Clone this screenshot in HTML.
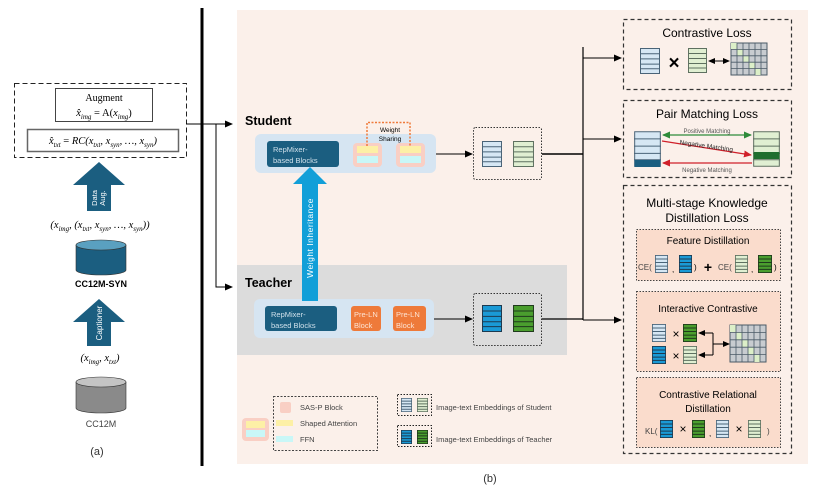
<!DOCTYPE html>
<html><head><meta charset="utf-8"><style>
html,body{margin:0;padding:0;background:#fff;}
svg{display:block;font-family:"Liberation Sans",sans-serif;}
.s{font-family:"Liberation Serif",serif;}
</style></head><body>
<svg width="817" height="494" viewBox="0 0 817 494" xmlns="http://www.w3.org/2000/svg">
<defs>
<marker id="ah" markerWidth="8" markerHeight="8" refX="7" refY="4" orient="auto" markerUnits="userSpaceOnUse"><path d="M0,0.5 L8,4 L0,7.5 z" fill="#000"/></marker>
<marker id="ahs" markerWidth="7" markerHeight="7" refX="6" refY="3.5" orient="auto-start-reverse" markerUnits="userSpaceOnUse"><path d="M0,0.5 L7,3.5 L0,6.5 z" fill="#000"/></marker>
<marker id="ag" markerWidth="8" markerHeight="8" refX="7" refY="4" orient="auto-start-reverse" markerUnits="userSpaceOnUse"><path d="M0,0.5 L8,4 L0,7.5 z" fill="#2e8b3a"/></marker>
<marker id="ar" markerWidth="8" markerHeight="8" refX="7" refY="4" orient="auto" markerUnits="userSpaceOnUse"><path d="M0,0.5 L8,4 L0,7.5 z" fill="#d0202a"/></marker>
<symbol id="lb" viewBox="0 0 20 25" preserveAspectRatio="none"><rect x="0.5" y="0.5" width="19" height="24" fill="#d6e7f4" stroke="#4a6478" vector-effect="non-scaling-stroke"/><path d="M0 5.5H20M0 10.5H20M0 15.5H20M0 20H20" stroke="#4a6478" vector-effect="non-scaling-stroke"/></symbol>
<symbol id="lg" viewBox="0 0 20 25" preserveAspectRatio="none"><rect x="0.5" y="0.5" width="19" height="24" fill="#e0efd2" stroke="#5e7060" vector-effect="non-scaling-stroke"/><path d="M0 5.5H20M0 10.5H20M0 15.5H20M0 20H20" stroke="#5e7060" vector-effect="non-scaling-stroke"/></symbol>
<symbol id="db" viewBox="0 0 20 25" preserveAspectRatio="none"><rect x="0.5" y="0.5" width="19" height="24" fill="#1a9ad6" stroke="#1d3a50" vector-effect="non-scaling-stroke"/><path d="M0 5.5H20M0 10.5H20M0 15.5H20M0 20H20" stroke="#1d3a50" vector-effect="non-scaling-stroke"/></symbol>
<symbol id="dg" viewBox="0 0 20 25" preserveAspectRatio="none"><rect x="0.5" y="0.5" width="19" height="24" fill="#4a9e2e" stroke="#1f3a1c" vector-effect="non-scaling-stroke"/><path d="M0 5.5H20M0 10.5H20M0 15.5H20M0 20H20" stroke="#1f3a1c" vector-effect="non-scaling-stroke"/></symbol>
</defs>

<rect x="237" y="10" width="571" height="454" fill="#fbf0ea"/>
<rect x="237" y="265" width="330" height="90" fill="#dcdcdc"/>
<line x1="202" y1="8" x2="202" y2="466" stroke="#000" stroke-width="3"/>

<!-- panel a -->
<rect x="14.5" y="83.5" width="172" height="74" fill="#fff" stroke="#222" stroke-dasharray="5,3"/>
<rect x="55.5" y="88.5" width="97" height="33" fill="#fff" stroke="#444"/>
<text x="104" y="101" font-size="10" text-anchor="middle" class="s">Augment</text>
<text x="104" y="116" font-size="10.5" text-anchor="middle" class="s"><tspan font-style="italic">x̂</tspan><tspan font-size="7" dy="3" font-style="italic">img</tspan><tspan dy="-3"> = A(</tspan><tspan font-style="italic">x</tspan><tspan font-size="7" dy="3" font-style="italic">img</tspan><tspan dy="-3">)</tspan></text>
<rect x="27.5" y="129.5" width="151" height="22" fill="#fff" stroke="#666" stroke-width="1.5"/>
<text x="103" y="144" font-size="10.5" text-anchor="middle" class="s" font-style="italic">x̂<tspan font-size="7" dy="3">txt</tspan><tspan dy="-3" font-style="normal"> = </tspan>RC(x<tspan font-size="7" dy="3">txt</tspan><tspan dy="-3">, x</tspan><tspan font-size="7" dy="3">syn</tspan><tspan dy="-3">, …, x</tspan><tspan font-size="7" dy="3">syn</tspan><tspan dy="-3">)</tspan></text>

<path d="M99,162 L125,185 L111,185 L111,211 L87,211 L87,185 L73,185 Z" fill="#1b5e80"/>
<text transform="translate(99,198) rotate(-90)" font-size="7.5" fill="#fff" text-anchor="middle"><tspan x="0" y="-2">Data</tspan><tspan x="0" y="6">Aug.</tspan></text>
<text x="100" y="228" font-size="10.5" text-anchor="middle" class="s" font-style="italic">(x<tspan font-size="7" dy="3">img</tspan><tspan dy="-3">, (x</tspan><tspan font-size="7" dy="3">txt</tspan><tspan dy="-3">, x</tspan><tspan font-size="7" dy="3">syn</tspan><tspan dy="-3">, …, x</tspan><tspan font-size="7" dy="3">syn</tspan><tspan dy="-3">))</tspan></text>

<path d="M76,245 L76,270 A25,5 0 0 0 126,270 L126,245" fill="#1b5e80" stroke="#333" stroke-width="0.6"/>
<ellipse cx="101" cy="245" rx="25" ry="5" fill="#5aa0c0" stroke="#333" stroke-width="0.6"/>
<text x="101" y="287" font-size="9" font-weight="bold" text-anchor="middle">CC12M-SYN</text>

<path d="M99,299 L125,322 L111,322 L111,346 L87,346 L87,322 L73,322 Z" fill="#1b5e80"/>
<text transform="translate(99,323) rotate(-90)" font-size="8" fill="#fff" text-anchor="middle" y="3">Captioner</text>
<text x="100" y="361" font-size="10.5" text-anchor="middle" class="s" font-style="italic">(x<tspan font-size="7" dy="3">img</tspan><tspan dy="-3">, x</tspan><tspan font-size="7" dy="3">txt</tspan><tspan dy="-3">)</tspan></text>
<path d="M76,382 L76,408 A25,5 0 0 0 126,408 L126,382" fill="#8a8a8a" stroke="#333" stroke-width="0.6"/>
<ellipse cx="101" cy="382" rx="25" ry="5" fill="#c4c4c4" stroke="#333" stroke-width="0.6"/>
<text x="101" y="427" font-size="9" text-anchor="middle" fill="#444">CC12M</text>
<text x="97" y="455" font-size="11" text-anchor="middle" fill="#333">(a)</text>
<text x="490" y="482" font-size="11" text-anchor="middle" fill="#333">(b)</text>

<path d="M186,124 H232" stroke="#000" marker-end="url(#ah)"/>
<path d="M216,124 V287 H232" stroke="#000" fill="none" marker-end="url(#ah)"/>

<!-- Student -->
<text x="245" y="125" font-size="12.5" font-weight="bold">Student</text>
<rect x="255" y="134" width="181" height="39" rx="6" fill="#d6e5f2"/>
<rect x="267" y="141" width="72" height="26" rx="3" fill="#1b5e80"/>
<text x="273" y="152" font-size="7.5" fill="#cfe0ea">RepMixer-</text>
<text x="273" y="163" font-size="7.5" fill="#cfe0ea">based Blocks</text>
<rect x="353" y="143" width="29" height="24" rx="4" fill="#f9cfc4"/>
<rect x="357" y="146" width="21" height="7" fill="#fdf0a6"/><rect x="357" y="156" width="21" height="7" fill="#c9f7f7"/>
<rect x="396" y="143" width="29" height="24" rx="4" fill="#f9cfc4"/>
<rect x="400" y="146" width="21" height="7" fill="#fdf0a6"/><rect x="400" y="156" width="21" height="7" fill="#c9f7f7"/>
<path d="M367,146 V122.5 H410 V146" stroke="#ef7a3a" stroke-width="1.5" stroke-dasharray="2,1.5" fill="none"/>
<text x="390" y="132" font-size="6.5" text-anchor="middle">Weight</text>
<text x="390" y="141" font-size="6.5" text-anchor="middle">Sharing</text>

<!-- Teacher -->
<text x="245" y="287" font-size="12.5" font-weight="bold">Teacher</text>
<rect x="254" y="299" width="180" height="39" rx="6" fill="#d6e5f2"/>
<rect x="265" y="306" width="72" height="25" rx="3" fill="#1b5e80"/>
<text x="271" y="317" font-size="7.5" fill="#cfe0ea">RepMixer-</text>
<text x="271" y="328" font-size="7.5" fill="#cfe0ea">based Blocks</text>
<rect x="351" y="306" width="30" height="25" rx="3" fill="#ee7a3a"/>
<text x="354" y="317" font-size="7.5" fill="#fde4d4">Pre-LN</text><text x="354" y="328" font-size="7.5" fill="#fde4d4">Block</text>
<rect x="393" y="306" width="33" height="25" rx="3" fill="#ee7a3a"/>
<text x="396" y="317" font-size="7.5" fill="#fde4d4">Pre-LN</text><text x="396" y="328" font-size="7.5" fill="#fde4d4">Block</text>

<path d="M310,167 L327,184 L318,184 L318,301 L302,301 L302,184 L293,184 Z" fill="#129fd8"/>
<text transform="translate(310,238) rotate(-90)" font-size="8.5" fill="#fff" text-anchor="middle" y="3" letter-spacing="0.5">Weight  Inheritance</text>

<path d="M436,154 H472" stroke="#000" marker-end="url(#ah)"/>
<path d="M434,319 H472" stroke="#000" marker-end="url(#ah)"/>
<rect x="473.5" y="127.5" width="68" height="52" rx="2" fill="none" stroke="#333" stroke-dasharray="1.5,1.5"/>
<use href="#lb" x="482" y="141" width="20" height="26"/><use href="#lg" x="513" y="141" width="21" height="26"/>
<rect x="473.5" y="293.5" width="68" height="52" rx="2" fill="none" stroke="#333" stroke-dasharray="1.5,1.5"/>
<use href="#db" x="482" y="305" width="20" height="27"/><use href="#dg" x="513" y="305" width="21" height="27"/>

<path d="M542,154 H583" stroke="#000" stroke-width="1.5"/>
<path d="M542,319 H583" stroke="#000" stroke-width="1.2"/>
<path d="M583,47 V320" stroke="#000" stroke-width="1.2"/>
<path d="M583,58 H621" stroke="#000" marker-end="url(#ah)"/>
<path d="M583,139 H621" stroke="#000" marker-end="url(#ah)"/>
<path d="M583,320 H621" stroke="#000" marker-end="url(#ah)"/>

<!-- Contrastive loss -->
<rect x="623.5" y="19.5" width="168" height="70" fill="none" stroke="#333" stroke-width="1.2" stroke-dasharray="4,3"/>
<text x="707" y="37" font-size="12" text-anchor="middle">Contrastive Loss</text>
<use href="#lb" x="640" y="48" width="20" height="26"/>
<text x="674" y="69" font-size="19" font-weight="bold" text-anchor="middle">×</text>
<use href="#lg" x="688" y="48" width="19" height="25"/>
<path d="M709,61 H729" stroke="#000" marker-start="url(#ahs)" marker-end="url(#ahs)"/>
<g>
<rect x="731" y="43" width="36" height="32" fill="#c8ccd0" stroke="#4a5a66"/>
<rect x="731" y="43" width="6" height="6.4" fill="#dcefc8"/><rect x="737" y="49.4" width="6" height="6.4" fill="#dcefc8"/><rect x="743" y="55.8" width="6" height="6.4" fill="#dcefc8"/><rect x="749" y="62.2" width="6" height="6.4" fill="#dcefc8"/><rect x="755" y="68.6" width="6" height="6.4" fill="#dcefc8"/>
<path d="M737 43V75M743 43V75M749 43V75M755 43V75M761 43V75M731 49.4H767M731 55.8H767M731 62.2H767M731 68.6H767" stroke="#4a5a66" stroke-width="0.8"/>
</g>

<!-- Pair matching -->
<rect x="623.5" y="100.5" width="168" height="77" fill="none" stroke="#333" stroke-width="1.2" stroke-dasharray="4,3"/>
<text x="707" y="118" font-size="12" text-anchor="middle">Pair Matching Loss</text>
<use href="#lb" x="634" y="131" width="27" height="36"/>
<rect x="634.5" y="160" width="26" height="7" fill="#1b5e80"/>
<use href="#lg" x="753" y="131" width="27" height="36"/>
<rect x="753.5" y="152" width="26" height="7" fill="#1f6e2e"/>
<path d="M663,135 H751" stroke="#2e8b3a" stroke-width="1.2" marker-start="url(#ag)" marker-end="url(#ag)"/>
<text x="707" y="133" font-size="6" text-anchor="middle" fill="#555">Positive Matching</text>
<path d="M662,141 L751,155" stroke="#d0202a" stroke-width="1.2" marker-end="url(#ar)"/>
<text x="706" y="148" font-size="6.5" text-anchor="middle" fill="#222" transform="rotate(8 706 148)">Negative Matching</text>
<path d="M752,163 H663" stroke="#d0202a" stroke-width="1.2" marker-end="url(#ar)"/>
<text x="707" y="172" font-size="6" text-anchor="middle" fill="#555">Negative Matching</text>

<!-- Multi stage -->
<rect x="623.5" y="185.5" width="168" height="268" fill="none" stroke="#333" stroke-width="1.2" stroke-dasharray="4,3"/>
<text x="707" y="207" font-size="12" text-anchor="middle">Multi-stage Knowledge</text>
<text x="707" y="222" font-size="12" text-anchor="middle">Distillation Loss</text>

<rect x="636.5" y="229.5" width="144" height="51" fill="#fadccc" stroke="#444" stroke-dasharray="1.5,1.5"/>
<text x="708" y="244" font-size="10" text-anchor="middle">Feature Distillation</text>
<text x="638" y="270" font-size="8" fill="#444">CE(</text>
<use href="#lb" x="655" y="255" width="13" height="18"/><text x="672" y="272" font-size="8">,</text>
<use href="#db" x="679" y="255" width="13" height="18"/><text x="694" y="270" font-size="8">)</text>
<text x="708" y="272" font-size="14" font-weight="bold" text-anchor="middle">+</text>
<text x="718" y="270" font-size="8" fill="#444">CE(</text>
<use href="#lg" x="735" y="255" width="13" height="18"/><text x="751" y="272" font-size="8">,</text>
<use href="#dg" x="758" y="255" width="14" height="18"/><text x="774" y="270" font-size="8">)</text>

<rect x="636.5" y="291.5" width="144" height="80" fill="#fadccc" stroke="#444" stroke-dasharray="1.5,1.5"/>
<text x="708" y="312" font-size="10" text-anchor="middle">Interactive Contrastive</text>
<use href="#lb" x="652" y="324" width="14" height="18"/>
<text x="676" y="338" font-size="12" text-anchor="middle">×</text>
<use href="#dg" x="683" y="324" width="14" height="18"/>
<use href="#db" x="652" y="346" width="14" height="18"/>
<text x="676" y="360" font-size="12" text-anchor="middle">×</text>
<use href="#lg" x="683" y="346" width="14" height="18"/>
<path d="M713,333 H699" stroke="#000" marker-end="url(#ahs)"/>
<path d="M713,355 H699" stroke="#000" marker-end="url(#ahs)"/>
<path d="M713,333 V355 M713,344 H729" stroke="#000" fill="none" marker-end="url(#ahs)"/>
<g>
<rect x="730" y="325" width="36" height="37" fill="#c8ccd0" stroke="#4a5a66"/>
<rect x="730" y="325" width="6" height="7.4" fill="#dcefc8"/><rect x="736" y="332.4" width="6" height="7.4" fill="#dcefc8"/><rect x="742" y="339.8" width="6" height="7.4" fill="#dcefc8"/><rect x="748" y="347.2" width="6" height="7.4" fill="#dcefc8"/><rect x="754" y="354.6" width="6" height="7.4" fill="#dcefc8"/>
<path d="M736 325V362M742 325V362M748 325V362M754 325V362M760 325V362M730 332.4H766M730 339.8H766M730 347.2H766M730 354.6H766" stroke="#4a5a66" stroke-width="0.8"/>
</g>

<rect x="636.5" y="377.5" width="144" height="70" fill="#fadccc" stroke="#444" stroke-dasharray="1.5,1.5"/>
<text x="708" y="398" font-size="10" text-anchor="middle">Contrastive Relational</text>
<text x="708" y="412" font-size="10" text-anchor="middle">Distillation</text>
<text x="645" y="434" font-size="8" fill="#444">KL(</text>
<use href="#db" x="660" y="420" width="13" height="18"/>
<text x="683" y="433" font-size="12" text-anchor="middle">×</text>
<use href="#dg" x="692" y="420" width="13" height="18"/>
<text x="709" y="436" font-size="8">,</text>
<use href="#lb" x="716" y="420" width="13" height="18"/>
<text x="739" y="433" font-size="12" text-anchor="middle">×</text>
<use href="#lg" x="748" y="420" width="13" height="18"/>
<text x="767" y="434" font-size="8" fill="#444">)</text>

<!-- legend -->
<rect x="242" y="418" width="27" height="23" rx="4" fill="#f9cfc4"/>
<rect x="246" y="421" width="19" height="7" fill="#fdf0a6"/><rect x="246" y="430" width="19" height="7" fill="#c9f7f7"/>
<rect x="273.5" y="396.5" width="104" height="54" fill="none" stroke="#444" stroke-dasharray="2,1.5"/>
<rect x="280" y="402" width="11" height="11" rx="2" fill="#f9cfc4"/>
<text x="300" y="410" font-size="7.5" fill="#444">SAS-P Block</text>
<rect x="276" y="420" width="17" height="6" fill="#fdf0a6"/>
<text x="300" y="426" font-size="7.5" fill="#444">Shaped Attention</text>
<rect x="276" y="436" width="17" height="6" fill="#c9f7f7"/>
<text x="300" y="442" font-size="7.5" fill="#444">FFN</text>
<rect x="397.5" y="394.5" width="34" height="21" fill="none" stroke="#222" stroke-dasharray="1.5,1.5"/>
<use href="#lb" x="401" y="398" width="11" height="14"/><use href="#lg" x="417" y="398" width="11" height="14"/>
<text x="436" y="410" font-size="7.5" fill="#444">Image-text Embeddings of Student</text>
<rect x="397.5" y="425.5" width="34" height="21" fill="none" stroke="#222" stroke-dasharray="1.5,1.5"/>
<use href="#db" x="401" y="430" width="11" height="14"/><use href="#dg" x="417" y="430" width="11" height="14"/>
<text x="436" y="442" font-size="7.5" fill="#444">Image-text Embeddings of Teacher</text>
</svg>
</body></html>
